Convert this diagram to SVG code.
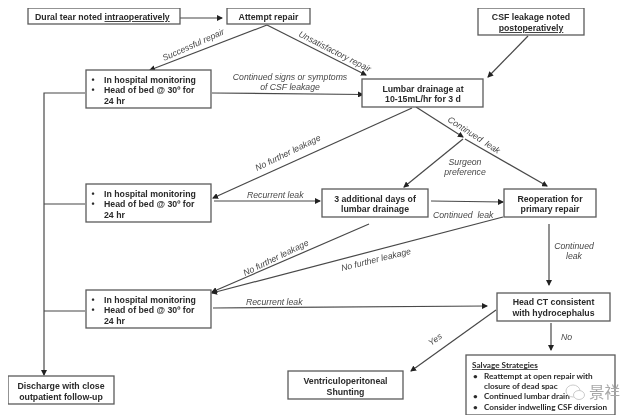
<svg xmlns="http://www.w3.org/2000/svg" width="640" height="420" viewBox="0 0 640 420">
<style>
text{font-family:"Liberation Sans",Arial,sans-serif;fill:#2a2a2a}
.n rect{fill:#fff;stroke:#5a5a5a;stroke-width:1.3}
.n text{font-size:8.75px;font-weight:bold}
.n .s{font-family:Lato,"Liberation Sans",sans-serif;font-size:8.2px}
.m{text-anchor:middle}
.l{font-size:8.7px;font-style:italic;fill:#484848}
#connectors line,#connectors polyline{stroke:#484848;stroke-width:1.2;fill:none}
.a{marker-end:url(#arr)}
</style>
<defs>
<marker id="arr" markerWidth="6" markerHeight="6" refX="5" refY="3" orient="auto" markerUnits="userSpaceOnUse"><path d="M0 0L6 3L0 6z" fill="#222"/></marker>
<filter id="soft" x="0" y="0" width="100%" height="100%"><feGaussianBlur stdDeviation="0.4"/></filter>
</defs>
<rect width="640" height="420" fill="#fff"/>
<g filter="url(#soft)">
<g id="connectors">
<line class="a" x1="180" y1="18" x2="222" y2="18"/>
<line class="a" x1="267" y1="25" x2="150" y2="70"/>
<line class="a" x1="267" y1="25" x2="366" y2="75"/>
<line class="a" x1="212" y1="93" x2="363" y2="94.5"/>
<line class="a" x1="528" y1="36" x2="488" y2="77"/>
<polyline class="a" points="85,93 44,93 44,375"/>
<line x1="85" y1="204" x2="44" y2="204"/>
<line x1="85" y1="311" x2="44" y2="311"/>
<line class="a" x1="412" y1="108" x2="213" y2="198"/>
<line class="a" x1="416" y1="107" x2="463" y2="137"/>
<line class="a" x1="463" y1="139" x2="404" y2="187"/>
<line class="a" x1="465" y1="139" x2="547" y2="186"/>
<line class="a" x1="214" y1="201" x2="320" y2="201"/>
<line class="a" x1="431" y1="201" x2="503" y2="202"/>
<line class="a" x1="369" y1="224" x2="212" y2="292"/>
<line class="a" x1="503" y1="217" x2="212" y2="293"/>
<line class="a" x1="549" y1="224" x2="549" y2="285"/>
<line class="a" x1="213" y1="308" x2="487" y2="306"/>
<line class="a" x1="496" y1="310" x2="411" y2="371"/>
<line class="a" x1="551" y1="323" x2="551" y2="350"/>
</g>
<g id="labels">
<text class="l" transform="translate(164 61) rotate(-24)">Successful repair</text>
<text class="l" transform="translate(298 36) rotate(27)">Unsatisfactory repair</text>
<text class="l m" x="290" y="80">Continued signs or symptoms</text>
<text class="l m" x="290" y="90">of CSF leakage</text>
<text class="l" transform="translate(447 121) rotate(33)">Continued&#160; leak</text>
<text class="l" transform="translate(257 171) rotate(-26)">No further leakage</text>
<text class="l m" x="465" y="165">Surgeon</text>
<text class="l m" x="465" y="175">preference</text>
<text class="l" x="247" y="198">Recurrent leak</text>
<text class="l" x="433" y="218">Continued&#160; leak</text>
<text class="l" transform="translate(245 276) rotate(-26)">No further leakage</text>
<text class="l" transform="translate(342 271) rotate(-14)">No further leakage</text>
<text class="l m" x="574" y="249">Continued</text>
<text class="l m" x="574" y="259">leak</text>
<text class="l" x="246" y="305">Recurrent leak</text>
<text class="l" transform="translate(431 346) rotate(-36)">Yes</text>
<text class="l" x="561" y="340">No</text>
</g>
<g id="n1" class="n"><rect x="28" y="8" width="152" height="16"/><text x="35" y="20">Dural tear noted <tspan text-decoration="underline">intraoperatively</tspan></text></g>
<g id="n2" class="n"><rect x="227" y="8" width="83" height="16"/><text class="m" x="268.500" y="20">Attempt repair</text></g>
<g id="n3" class="n"><rect x="478" y="8" width="106" height="27"/><text class="m" x="531" y="20">CSF leakage noted</text><text class="m" x="531" y="31" text-decoration="underline">postoperatively</text></g>
<g id="n4" class="n"><rect x="86" y="70" width="125" height="38"/><text x="91.500" y="83">•</text><text x="104" y="83">In hospital monitoring</text><text x="91.500" y="93">•</text><text x="104" y="93">Head of bed @ 30º for</text><text x="104" y="104">24 hr</text></g>
<g id="n5" class="n"><rect x="362" y="79" width="121" height="28"/><text class="m" x="423" y="92">Lumbar drainage at</text><text class="m" x="423" y="102">10-15mL/hr for 3 d</text></g>
<g id="n6" class="n"><rect x="86" y="184" width="125" height="38"/><text x="91.500" y="197">•</text><text x="104" y="197">In hospital monitoring</text><text x="91.500" y="207">•</text><text x="104" y="207">Head of bed @ 30º for</text><text x="104" y="218">24 hr</text></g>
<g id="n7" class="n"><rect x="322" y="189" width="106" height="28"/><text class="m" x="375" y="202">3 additional days of</text><text class="m" x="375" y="212">lumbar drainage</text></g>
<g id="n8" class="n"><rect x="504" y="189" width="92" height="28"/><text class="m" x="550" y="202">Reoperation for</text><text class="m" x="550" y="212">primary repair</text></g>
<g id="n9" class="n"><rect x="86" y="290" width="125" height="38"/><text x="91.500" y="303">•</text><text x="104" y="303">In hospital monitoring</text><text x="91.500" y="313">•</text><text x="104" y="313">Head of bed @ 30º for</text><text x="104" y="324">24 hr</text></g>
<g id="n10" class="n"><rect x="497" y="293" width="113" height="28"/><text class="m" x="553.500" y="305">Head CT consistent</text><text class="m" x="553.500" y="316">with hydrocephalus</text></g>
<g id="n11" class="n"><rect x="8" y="376" width="106" height="28"/><text class="m" x="61" y="389">Discharge with close</text><text class="m" x="61" y="400">outpatient follow-up</text></g>
<g id="n12" class="n"><rect x="288" y="371" width="115" height="28"/><text class="m" x="345.500" y="384">Ventriculoperitoneal</text><text class="m" x="345.500" y="395">Shunting</text></g>
<g id="n13" class="n"><rect x="466" y="355" width="149" height="60"/><text class="s" x="472" y="368" text-decoration="underline">Salvage Strategies</text><text class="s" x="473" y="379">•</text><text class="s" x="484" y="379">Reattempt at open repair with</text><text class="s" x="484" y="389">closure of dead spac</text><text class="s" x="473" y="399">•</text><text class="s" x="484" y="399">Continued lumbar drain</text><text class="s" x="473" y="410">•</text><text class="s" x="484" y="410">Consider indwelling CSF diversion</text></g>
<g id="watermark">
<ellipse cx="573" cy="391" rx="7" ry="6" fill="#fff" stroke="#ccc" stroke-width="1"/>
<ellipse cx="579" cy="395" rx="5.500" ry="4.500" fill="#fff" stroke="#ccc" stroke-width="1"/>
<text x="589" y="398" style="font-family:'Noto Sans CJK SC',sans-serif;font-size:15.500px;fill:#a8a8a8">景祥</text>
</g>
</g>
</svg>
